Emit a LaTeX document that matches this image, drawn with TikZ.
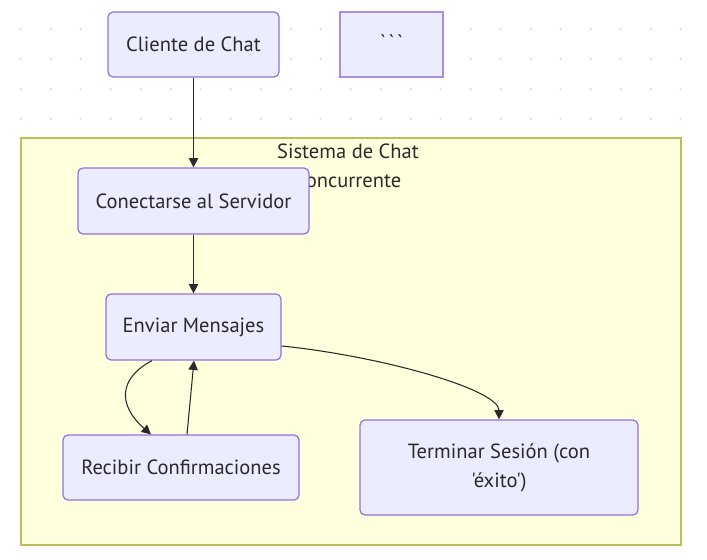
\documentclass[tikz,border=0pt]{standalone}
\usepackage{fontspec}
\newfontfamily\mf{PT Sans}
\usetikzlibrary{arrows.meta,calc}
\definecolor{nodefill}{HTML}{ECECFF}
\definecolor{nodeline}{HTML}{9370DB}
\definecolor{sgfill}{HTML}{FFFFDE}
\definecolor{sgline}{HTML}{BDBD5A}
\definecolor{ink}{HTML}{2A2A2A}
\definecolor{dotc}{HTML}{E3E3E3}
\tikzset{
  txt/.style={text=ink, font=\mf\fontsize{15.4}{21.75}\selectfont, align=center, inner sep=0pt},
  box/.style={txt, draw=nodeline, fill=nodefill, line width=0.9pt, rounded corners=3.75pt},
  sqbox/.style={box, rounded corners=0pt, draw=nodeline!80},
  link/.style={draw=ink, line width=0.8pt, -{Triangle[length=7pt,width=7pt]}},
}
\begin{document}
\begin{tikzpicture}[x=0.75pt,y=-0.75pt]
\useasboundingbox (0,0) rectangle (707,560);
% dotted background
\foreach \i in {0,...,22} {
  \foreach \j in {0,...,18} {
    \fill[dotc] (20.7+30*\i, -1+30*\j) circle[radius=1.4];
  }
}
% subgraph
\draw[sgline, fill=sgfill, line width=1pt] (21,138) rectangle (681,545);
\node[txt, anchor=north] (sgtitle) at (348,144) {Sistema de Chat\\Concurrente};
% nodes
\node[box, minimum width=128.25pt, minimum height=48.75pt] (cli) at (193.5,44.5) {Cliente de Chat};
\node[sqbox, minimum width=77.25pt, minimum height=48.75pt] (tick) at (391.5,44.5)
  {\raisebox{4pt}{\textasciigrave\kern2pt\textasciigrave\kern2pt\textasciigrave}};
\node[box, minimum width=173.25pt, minimum height=49.5pt] (con) at (193.5,201) {Conectarse al Servidor};
\node[box, minimum width=131.25pt, minimum height=49.5pt] (env) at (193.5,327) {Enviar Mensajes};
\node[box, minimum width=177pt, minimum height=48.75pt] (rec) at (181,467.5) {Recibir Confirmaciones};
\node[box, minimum width=208.5pt, minimum height=71.25pt] (ter) at (499,467.5) {Terminar Sesión (con\\'éxito')};
% connectors
\draw[link] (cli.south) -- (con.north);
\draw[link] (con.south) -- (env.north);
\draw[link] ($(env.south)+(-41.5,0)$) .. controls ($(env.south)+(-75.5,18)$) and ($(env.south)+(-75.5,45)$) .. ($(rec.north)+(-30,0)$);
\draw[link] ($(rec.north)+(6,0)$) -- ($(env.south)+(0.5,0)$);
\draw[link] ($(env.east)+(0,19)$) .. controls ($(env.east)+(99,29)$) and ($(ter.north)+(0,-30)$) .. (ter.north);
\end{tikzpicture}
\end{document}
